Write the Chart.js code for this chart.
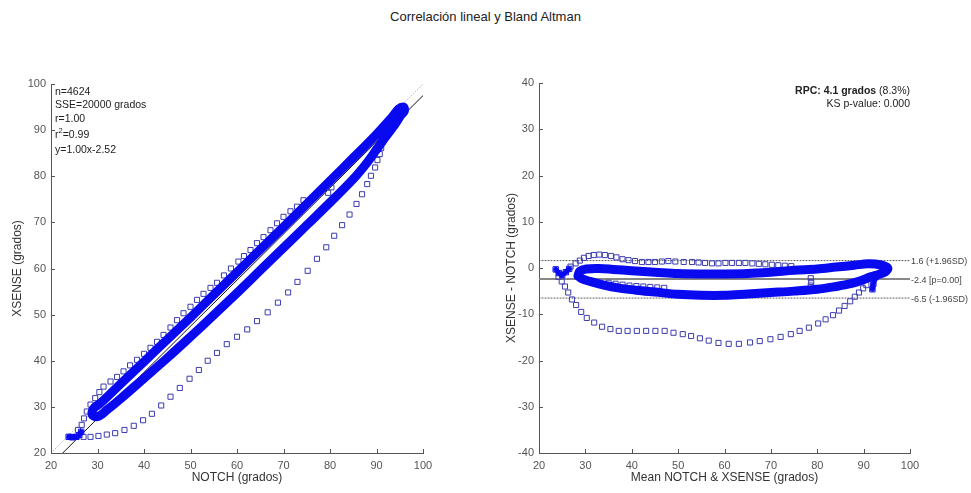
<!DOCTYPE html>
<html>
<head>
<meta charset="utf-8">
<script src="https://cdn.jsdelivr.net/npm/chart.js@4.4.1/dist/chart.umd.min.js"></script>
<style>
  body { margin: 0; background: #fff; width: 971px; height: 493px; overflow: hidden; position: relative; font-family: "Liberation Sans", Arial, sans-serif; }
  #title { position: absolute; left: 0; top: 9px; width: 971px; text-align: center; font-size: 13px; color: #222; }
  canvas { position: absolute; top: 0; }
  #left { left: 0; }
  #right { left: 486px; }
</style>
</head>
<body>
<div id="title">Correlación lineal y Bland Altman</div>
<canvas id="left" width="485" height="493"></canvas>
<canvas id="right" width="485" height="493"></canvas>
<script>
const FONT = '"Liberation Sans", Arial, sans-serif';

// ---- left: correlation (NOTCH vs XSENSE) ----
const xTicks = [20, 30, 40, 50, 60, 70, 80, 90, 100];
const leftYTicks = [20, 30, 40, 50, 60, 70, 80, 90, 100];
const rightYTicks = [-40, -30, -20, -10, 0, 10, 20, 30, 40];

// dense loop (lower branch down, upper branch up)
const leftDenseX = [95.2, 94, 92, 90, 88, 85, 80, 75, 70, 65, 60, 55, 50, 45, 40, 35, 32, 30.3, 29.2, 28.8, 29.3, 30.5, 32, 35, 40, 45, 50, 55, 60, 65, 70, 75, 80, 85, 90, 93, 94.8, 95.8, 96, 95.2];
const leftDenseY = [93.2, 91.3, 88.6, 85.8, 83.0, 79.4, 74.3, 69.4, 64.5, 59.6, 54.7, 49.9, 45.2, 40.6, 36.2, 31.8, 29.3, 28.0, 28.0, 28.8, 29.8, 30.7, 32.1, 35.0, 39.8, 44.6, 49.4, 54.3, 59.2, 64.1, 69.0, 74.0, 79.0, 84.0, 89.1, 92.4, 94.6, 95.0, 94.2, 93.2];
const leftHookX = [23.8, 24.6, 25.4, 26.1, 26.5];
const leftHookY = [23.5, 23.4, 23.5, 23.9, 24.6];
const leftUpperX = [25.8, 26.6, 27.1, 27.7, 28.5, 29.5, 30.4, 31.3, 32.8, 34.2, 35.6, 37, 38.5, 40, 41.4, 42.8, 44.2, 45.7, 47.1, 48.5, 50, 51.4, 52.8, 54.3, 55.7, 57.2, 58.7, 60.3, 61.5, 62.9, 64.3, 65.7, 67.2, 68.6, 70, 71.5, 72.9, 74.3];
const leftUpperY = [25, 26.1, 27.5, 29.0, 30.5, 31.9, 33.2, 34.4, 35.5, 36.5, 37.7, 39, 40.2, 41.5, 42.8, 44.1, 45.6, 47.2, 48.8, 50.3, 51.7, 53.2, 54.5, 55.8, 56.9, 58.5, 60, 61.5, 62.7, 64.0, 65.5, 66.8, 68.3, 69.8, 71.2, 72.4, 73.4, 74.8];
const leftLowerX = [24.2, 25.5, 27.0, 28.5, 30.2, 32, 33.8, 35.8, 37.8, 39.8, 41.7, 43.7, 45.7, 47.7, 49.8, 51.8, 53.7, 55.7, 57.8, 60.0, 62.2, 64.3, 66.6, 68.8, 71.0, 73.0, 75.2, 77.2, 79.2, 80.9, 82.6, 84.2, 85.7, 86.9, 88.0, 88.8, 89.7, 90.2, 90.7, 91.0, 91.4, 92];
const leftLowerY = [23.5, 23.5, 23.5, 23.5, 23.7, 24, 24.3, 25, 25.9, 27.1, 28.5, 30.3, 32.2, 34.1, 36.1, 38, 40.0, 41.7, 43.6, 45.2, 46.8, 48.6, 50.5, 52.6, 54.8, 57.1, 59.5, 62.1, 64.6, 67.1, 69.4, 71.7, 74.0, 76.1, 78.3, 80.1, 81.9, 83.5, 84.8, 86.1, 87.5, 89];
const leftRingX = [79.6, 80.3];
const leftRingY = [76.4, 77.6];
const fitSlope = 1.00;
const fitIntercept = -2.52;
const statsLines = ['n=4624', 'SSE=20000 grados', 'r=1.00', 'r2=0.99', 'y=1.00x-2.52'];

// ---- right: Bland Altman ----
const rightDenseX = [28.4, 28.8, 30.2, 33, 36, 40, 45, 50, 55, 60, 65, 70, 75, 80, 84, 88, 91, 93.5, 95.2, 94.6, 93.2, 91.5, 89.5, 87.2, 84, 80, 75, 70, 65, 60, 55, 50, 45, 41, 37, 34, 31, 29.2, 28.4];
const rightDenseY = [-1.7, -0.7, -0.2, -0.1, -0.3, -0.6, -0.9, -1.2, -1.3, -1.3, -1.2, -0.9, -0.5, -0.2, 0.2, 0.6, 0.9, 0.7, 0.0, -0.9, -1.4, -1.9, -2.7, -3.4, -4.0, -4.6, -5.0, -5.3, -5.6, -5.9, -5.9, -5.7, -5.2, -4.8, -4.3, -3.7, -2.9, -2.3, -1.7];
const rightHookX = [23.6, 24.3, 25.0, 25.8, 26.5];
const rightHookY = [-0.3, -1.1, -1.5, -0.9, -0.2];
const rightTailX = [92.6, 92.1, 91.9];
const rightTailY = [-2.0, -3.4, -4.6];
const rightUpperX = [26.8, 27.9, 28.8, 29.7, 30.7, 31.8, 33.0, 34.2, 35.5, 36.7, 38.0, 39.3, 40.7, 42.2, 43.6, 45.0, 46.5, 47.9, 49.4, 51.2, 53.0, 54.4, 55.8, 57.3, 58.7, 60.2, 61.6, 63.1, 64.5, 66.0, 67.4, 68.8, 70.2, 71.6, 73.0, 74.4];
const rightUpperY = [0.3, 1.0, 1.6, 2.2, 2.6, 2.8, 2.9, 2.8, 2.6, 2.3, 1.9, 1.7, 1.5, 1.3, 1.3, 1.3, 1.4, 1.5, 1.4, 1.3, 1.3, 1.2, 1.1, 1.0, 1.0, 1.1, 1.1, 1.1, 1.1, 1.0, 0.9, 0.8, 0.7, 0.6, 0.5, 0.4];
const rightLowerX = [24.2, 24.9, 25.6, 26.3, 27.1, 28.0, 29.1, 30.3, 31.9, 33.6, 35.4, 37.2, 39.1, 41.1, 43.1, 45.1, 47.1, 49.0, 51.0, 52.8, 54.7, 56.6, 58.7, 60.9, 63.1, 65.5, 67.6, 69.9, 72.1, 74.3, 76.2, 78.2, 80.2, 81.8, 83.4, 84.7, 85.9, 87.1, 88.1, 89.0, 89.9, 90.6];
const rightLowerY = [-1.9, -2.9, -4.0, -5.3, -6.8, -8.0, -9.5, -10.8, -11.8, -12.7, -13.2, -13.6, -13.6, -13.6, -13.6, -13.6, -13.6, -14.0, -14.3, -14.7, -15.2, -15.7, -16.2, -16.4, -16.4, -16.1, -15.8, -15.4, -14.9, -14.3, -13.6, -12.9, -12.0, -11.1, -10.2, -9.2, -8.2, -7.2, -6.2, -5.3, -4.4, -3.7];
const rightGapX = [35, 36.5, 38, 39.5, 41, 42.5, 44, 45.5, 47, 78.6, 78.7, 78.6];
const rightGapY = [-3.2, -3.4, -3.6, -3.8, -3.9, -4.0, -4.1, -4.2, -4.3, -2.2, -3.0, -3.8];
const meanDiff = -2.4;
const upperLoA = 1.6;
const lowerLoA = -6.5;
const loaLabels = ['1.6 (+1.96SD)', '-2.4 [p=0.00]', '-6.5 (-1.96SD)'];

const DENSE = '#0a0af0';
const SPARSE = '#3c3cb0';

function pts(xs, ys) { return xs.map((x, i) => ({ x: x, y: ys[i] })); }

function denseSet(xs, ys, w) {
  return { data: pts(xs, ys), showLine: true, borderColor: DENSE, borderWidth: w, tension: 0.35,
    pointStyle: 'rect', pointRadius: 3.8, pointBorderColor: DENSE, pointBorderWidth: 1, pointBackgroundColor: 'rgba(0,0,0,0)' };
}
function sparseSet(xs, ys) {
  return { data: pts(xs, ys), showLine: false, pointStyle: 'rect', pointRadius: 3.6,
    pointBorderColor: SPARSE, pointBorderWidth: 1, pointBackgroundColor: 'rgba(0,0,0,0)' };
}
function refLine(data, color, width, dash) {
  return { data: data, showLine: true, borderColor: color, borderWidth: width, borderDash: dash, pointRadius: 0, tension: 0 };
}

function scaleOpts(min, max, ticks, title, size, horizontal, titlePad) {
  return {
    type: 'linear', min: min, max: max,
    afterBuildTicks: s => { s.ticks = ticks.map(v => ({ value: v })); },
    ticks: { color: '#555', font: { family: FONT, size: 11 }, padding: horizontal ? 6 : 5 },
    grid: { display: false, drawTicks: false },
    border: { display: true, color: '#555', width: 1 },
    title: { display: true, text: title, color: '#333', font: { family: FONT, size: 12 }, padding: titlePad },
    afterFit: s => { if (horizontal) s.height = size; else s.width = size; }
  };
}

// inward tick marks, MATLAB style
const inwardTicks = {
  id: 'inwardTicks',
  afterDraw(chart) {
    const { ctx, chartArea: a, scales } = chart;
    ctx.save();
    ctx.strokeStyle = '#555';
    ctx.lineWidth = 1;
    ctx.beginPath();
    scales.x.ticks.forEach(t => { const px = Math.round(scales.x.getPixelForValue(t.value)) + 0.5; ctx.moveTo(px, a.bottom); ctx.lineTo(px, a.bottom - 4); });
    scales.y.ticks.forEach(t => { const py = Math.round(scales.y.getPixelForValue(t.value)) + 0.5; ctx.moveTo(a.left, py); ctx.lineTo(a.left + 4, py); });
    ctx.stroke();
    ctx.restore();
  }
};

const leftText = {
  id: 'leftText',
  afterDraw(chart) {
    const { ctx, chartArea: a } = chart;
    ctx.save();
    ctx.fillStyle = '#222';
    ctx.font = '10.5px ' + FONT;
    ctx.textBaseline = 'middle';
    const x0 = a.left + 4;
    const ys = [8, 21, 35, 51, 66];
    statsLines.forEach((s, i) => {
      const y = a.top + ys[i];
      if (s.startsWith('r2')) {
        ctx.fillText('r', x0, y);
        const w = ctx.measureText('r').width;
        ctx.font = '7.5px ' + FONT;
        ctx.fillText('2', x0 + w, y - 4);
        const w2 = ctx.measureText('2').width;
        ctx.font = '10.5px ' + FONT;
        ctx.fillText(s.slice(2), x0 + w + w2, y);
      } else {
        ctx.fillText(s, x0, y);
      }
    });
    ctx.restore();
  }
};

const rightText = {
  id: 'rightText',
  afterDraw(chart) {
    const { ctx, chartArea: a, scales } = chart;
    ctx.save();
    ctx.textBaseline = 'middle';
    ctx.fillStyle = '#222';
    const tail = ' (8.3%)';
    ctx.font = '10.5px ' + FONT;
    const wTail = ctx.measureText(tail).width;
    ctx.textAlign = 'right';
    ctx.fillText(tail, a.right, a.top + 8);
    ctx.font = 'bold 10.5px ' + FONT;
    ctx.fillText('RPC: 4.1 grados', a.right - wTail, a.top + 8);
    ctx.font = '10.5px ' + FONT;
    ctx.fillText('KS p-value: 0.000', a.right, a.top + 21);
    ctx.textAlign = 'left';
    ctx.fillStyle = '#444';
    ctx.font = '9px ' + FONT;
    [upperLoA, meanDiff, lowerLoA].forEach((v, i) => {
      ctx.fillText(loaLabels[i], a.right + 1, scales.y.getPixelForValue(v) + 1);
    });
    ctx.restore();
  }
};

const common = {
  animation: false, responsive: false, maintainAspectRatio: false,
  plugins: { legend: { display: false }, tooltip: { enabled: false } },
  elements: { line: { borderCapStyle: 'round', borderJoinStyle: 'round' } }
};

new Chart(document.getElementById('left'), {
  type: 'scatter',
  data: { datasets: [
    denseSet(leftDenseX, leftDenseY, 9),
    denseSet(leftHookX, leftHookY, 5),
    sparseSet(leftUpperX, leftUpperY),
    sparseSet(leftLowerX, leftLowerY),
    sparseSet(leftRingX, leftRingY),
    refLine([{ x: 20 - fitIntercept, y: 20 }, { x: 100, y: fitSlope * 100 + fitIntercept }], '#111', 1, []),
    refLine([{ x: 20, y: 20 }, { x: 100, y: 100 }], '#bbb', 1, [1, 2])
  ] },
  options: Object.assign({}, common, {
    layout: { padding: { top: 84, right: 62, left: 0, bottom: 0 } },
    scales: {
      x: scaleOpts(20, 100, xTicks, 'NOTCH (grados)', 40, true, { top: 0, bottom: 8 }),
      y: scaleOpts(20, 100, leftYTicks, 'XSENSE (grados)', 51, false, { top: 10, bottom: 0 })
    }
  }),
  plugins: [inwardTicks, leftText]
});

new Chart(document.getElementById('right'), {
  type: 'scatter',
  data: { datasets: [
    denseSet(rightDenseX, rightDenseY, 9),
    denseSet(rightHookX, rightHookY, 5),
    denseSet(rightTailX, rightTailY, 5),
    sparseSet(rightUpperX, rightUpperY),
    sparseSet(rightLowerX, rightLowerY),
    sparseSet(rightGapX, rightGapY),
    refLine([{ x: 20, y: meanDiff }, { x: 100, y: meanDiff }], '#888', 2, []),
    refLine([{ x: 20, y: upperLoA }, { x: 100, y: upperLoA }], '#555', 1, [1, 2]),
    refLine([{ x: 20, y: lowerLoA }, { x: 100, y: lowerLoA }], '#555', 1, [1, 2])
  ] },
  options: Object.assign({}, common, {
    layout: { padding: { top: 83, right: 61, left: 0, bottom: 0 } },
    scales: {
      x: scaleOpts(20, 100, xTicks, 'Mean NOTCH & XSENSE (grados)', 40, true, { top: 0, bottom: 8 }),
      y: scaleOpts(-40, 40, rightYTicks, 'XSENSE - NOTCH (grados)', 53, false, { top: 18, bottom: 0 })
    }
  }),
  plugins: [inwardTicks, rightText]
});
</script>
</body>
</html>
